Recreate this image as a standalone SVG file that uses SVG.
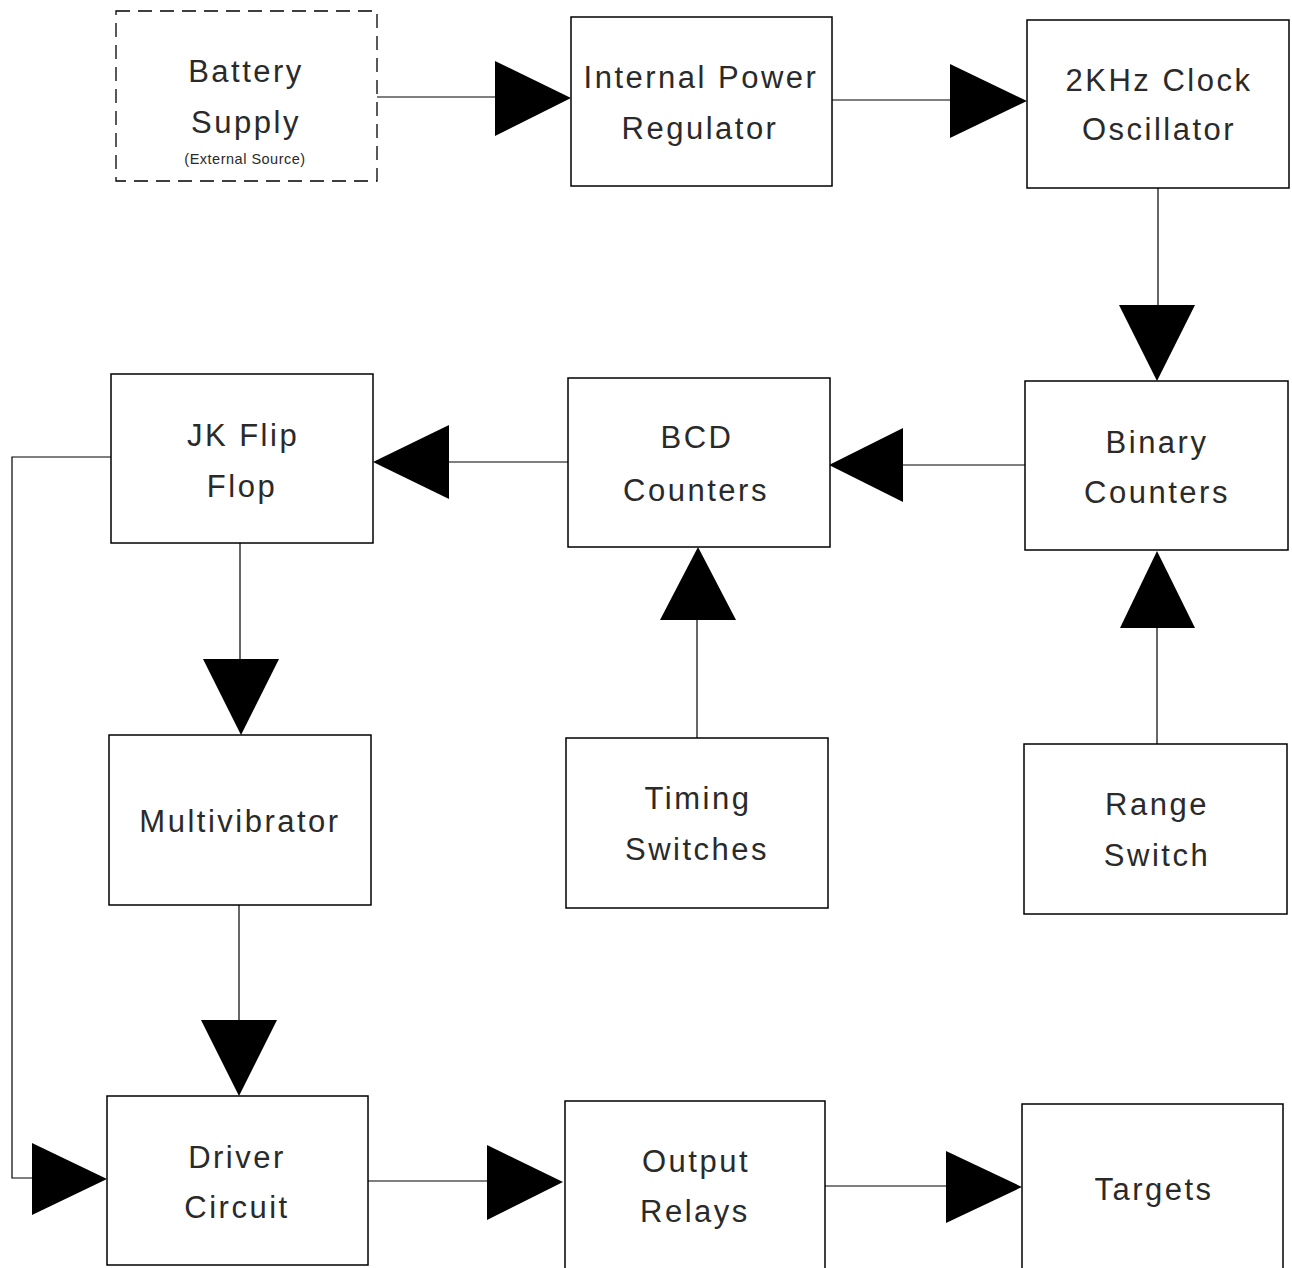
<svg xmlns="http://www.w3.org/2000/svg" width="1292" height="1268" viewBox="0 0 1292 1268">
<style>
.box{fill:#fff;stroke:#000;stroke-width:1.5}
.dash{fill:#fff;stroke:#000;stroke-width:1.3;stroke-dasharray:14 8}
.ln{fill:none;stroke:#000;stroke-width:1.2}
.ah{fill:#000;stroke:none}
text{font-family:"Liberation Sans",Arial,sans-serif;font-size:31px;letter-spacing:2.5px;text-anchor:middle;fill:#2a2a2a}
.sm{font-size:14.5px;letter-spacing:0.5px}
</style>
<rect width="1292" height="1268" fill="#fff"/>
<g id="connectors">
<line class="ln" x1="377" y1="97" x2="497" y2="97"/>
<polygon class="ah" points="495,61 571,98 495,136"/>
<line class="ln" x1="832" y1="100" x2="952" y2="100"/>
<polygon class="ah" points="950,64 1027,101 950,138"/>
<line class="ln" x1="1158" y1="188" x2="1158" y2="307"/>
<polygon class="ah" points="1119,305 1195,305 1157,381"/>
<line class="ln" x1="1025" y1="465" x2="901" y2="465"/>
<polygon class="ah" points="903,428 903,502 829,465"/>
<line class="ln" x1="568" y1="462" x2="447" y2="462"/>
<polygon class="ah" points="449,425 449,499 373,462"/>
<line class="ln" x1="697" y1="738" x2="697" y2="618"/>
<polygon class="ah" points="660,620 736,620 698,547"/>
<line class="ln" x1="1157" y1="744" x2="1157" y2="626"/>
<polygon class="ah" points="1120,628 1195,628 1157,551"/>
<line class="ln" x1="240" y1="543" x2="240" y2="661"/>
<polygon class="ah" points="203,659 279,659 241,735"/>
<line class="ln" x1="239" y1="905" x2="239" y2="1022"/>
<polygon class="ah" points="201,1020 277,1020 239,1096"/>
<polyline class="ln" points="111,457 12,457 12,1178 34,1178"/>
<polygon class="ah" points="32,1143 107,1179 32,1215"/>
<line class="ln" x1="368" y1="1181" x2="489" y2="1181"/>
<polygon class="ah" points="487,1145 563,1182 487,1220"/>
<line class="ln" x1="825" y1="1186" x2="948" y2="1186"/>
<polygon class="ah" points="946,1151 1022,1187 946,1223"/>
</g>
<g id="battery">
<rect class="dash" x="116" y="11" width="261" height="170"/>
<text x="246" y="82">Battery</text>
<text x="246" y="133">Supply</text>
<text class="sm" x="245" y="164">(External Source)</text>
</g>
<g id="regulator">
<rect class="box" x="571" y="17" width="261" height="169"/>
<text x="701" y="88">Internal Power</text>
<text x="700" y="139">Regulator</text>
</g>
<g id="oscillator">
<rect class="box" x="1027" y="20" width="262" height="168"/>
<text x="1159" y="91">2KHz Clock</text>
<text x="1159" y="140">Oscillator</text>
</g>
<g id="binary">
<rect class="box" x="1025" y="381" width="263" height="169"/>
<text x="1157" y="453">Binary</text>
<text x="1157" y="503">Counters</text>
</g>
<g id="bcd">
<rect class="box" x="568" y="378" width="262" height="169"/>
<text x="697" y="448">BCD</text>
<text x="696" y="501">Counters</text>
</g>
<g id="jk">
<rect class="box" x="111" y="374" width="262" height="169"/>
<text x="243" y="446">JK Flip</text>
<text x="242" y="497">Flop</text>
</g>
<g id="multivibrator">
<rect class="box" x="109" y="735" width="262" height="170"/>
<text x="240" y="832">Multivibrator</text>
</g>
<g id="timing">
<rect class="box" x="566" y="738" width="262" height="170"/>
<text x="698" y="809">Timing</text>
<text x="697" y="860">Switches</text>
</g>
<g id="range">
<rect class="box" x="1024" y="744" width="263" height="170"/>
<text x="1157" y="815">Range</text>
<text x="1157" y="866">Switch</text>
</g>
<g id="driver">
<rect class="box" x="107" y="1096" width="261" height="169"/>
<text x="237" y="1168">Driver</text>
<text x="237" y="1218">Circuit</text>
</g>
<g id="relays">
<rect class="box" x="565" y="1101" width="260" height="170"/>
<text x="696" y="1172">Output</text>
<text x="695" y="1222">Relays</text>
</g>
<g id="targets">
<rect class="box" x="1022" y="1104" width="261" height="170"/>
<text x="1154" y="1200">Targets</text>
</g>
</svg>
